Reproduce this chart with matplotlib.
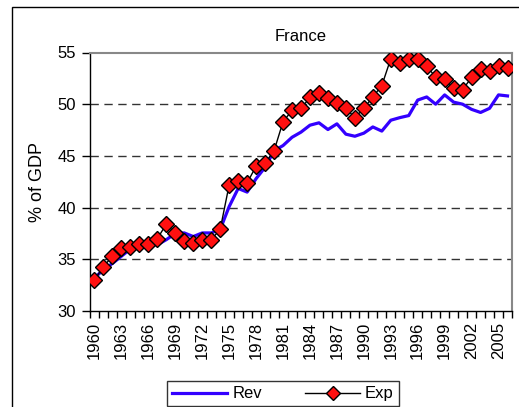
import matplotlib
matplotlib.use("Agg")
import matplotlib.pyplot as plt
from matplotlib.patches import Rectangle
import numpy as np

plt.rcParams['font.family'] = ['Liberation Sans', 'DejaVu Sans']

years = list(range(1960, 2007))
rev = [33.2, 34.0, 34.6, 35.3, 36.0, 36.3, 36.5, 36.4, 36.9, 37.5,
       37.55, 37.2, 37.55, 37.55, 37.9, 40.1, 41.85, 41.5, 42.8, 43.9,
       45.5, 46.0, 46.8, 47.3, 47.97, 48.2, 47.55, 48.1, 47.1, 46.9,
       47.2, 47.8, 47.4, 48.45, 48.7, 48.9, 50.4, 50.7, 50.0, 50.9,
       50.2, 50.0, 49.5, 49.2, 49.6, 50.9, 50.8]
exp = [33.0, 34.3, 35.3, 36.05, 36.15, 36.5, 36.5, 37.0, 38.4, 37.5,
       36.75, 36.6, 36.9, 36.9, 37.9, 42.2, 42.6, 42.4, 44.0, 44.3,
       45.5, 48.3, 49.4, 49.6, 50.65, 51.1, 50.6, 50.07, 49.6, 48.7,
       49.6, 50.7, 51.8, 54.4, 54.0, 54.4, 54.4, 53.7, 52.6, 52.4,
       51.6, 51.4, 52.6, 53.4, 53.2, 53.7, 53.5]
yticks = [30, 35, 40, 45, 50, 55]

W, H = 519, 407
fig = plt.figure(figsize=(W/100, H/100), dpi=100)
ax = fig.add_axes([90/W, 1-311/H, 422/W, (311-52.5)/H])

x = np.arange(len(years))
ax.plot(x, rev, color='#3300FF', lw=2.3, label='Rev', zorder=3)
ax.plot(x, exp, color='black', lw=1.0, marker='D', ms=8.3,
        markerfacecolor='#FF1010', markeredgecolor='black', markeredgewidth=1.0,
        label='Exp', zorder=4)

ax.set_xlim(-0.5, len(years)-0.5)
ax.set_ylim(30, 55)
ax.set_yticks(yticks)
ax.tick_params(axis='y', direction='out', length=6, width=1, labelsize=12, pad=4)
for yv in yticks[1:-1]:
    ax.axhline(yv, color='#333333', lw=1.0, ls=(0, (6, 4)), zorder=1)

ax.set_xticks(x[::3])
ax.set_xticklabels([str(y) for y in years[::3]], rotation=90, fontsize=12)
ax.set_xticks(np.arange(-0.5, len(years), 1), minor=True)
ax.tick_params(axis='x', which='major', length=0, pad=8)
ax.tick_params(axis='x', which='minor', direction='out', length=5, width=1)

for s in ['left', 'bottom']:
    ax.spines[s].set_color('black')
    ax.spines[s].set_linewidth(1.0)
for s in ['top', 'right']:
    ax.spines[s].set_color('#888888')
    ax.spines[s].set_linewidth(1.5)

ax.set_ylabel('% of GDP', fontsize=13, labelpad=8)
ax.set_title('France', fontsize=12, pad=8)

leg = ax.legend(loc='upper center', bbox_to_anchor=(283/W, 1-373/H), bbox_transform=fig.transFigure,
                ncol=2, frameon=True, fancybox=False, edgecolor='black', fontsize=12,
                handlelength=3.3, columnspacing=2.6, borderpad=0.3, handletextpad=0.3,
                markerscale=0.8)
leg.get_frame().set_linewidth(1.0)

fig.patches.append(Rectangle((12/W, -0.05), 1.2, 1-7/H+0.05, transform=fig.transFigure,
                             fill=False, edgecolor='black', lw=1.0))

fig.savefig('out.png', dpi=100)
